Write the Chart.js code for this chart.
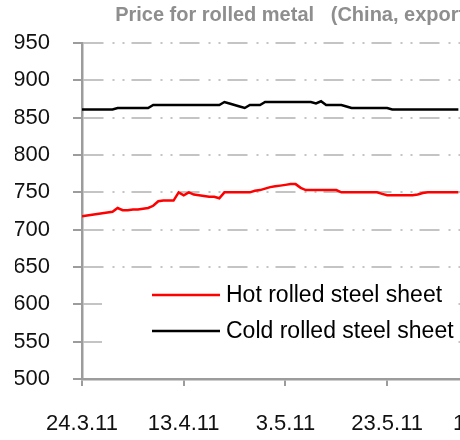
<!DOCTYPE html>
<html>
<head>
<meta charset="utf-8">
<script src="https://cdn.jsdelivr.net/npm/chart.js@4.4.1/dist/chart.umd.min.js"></script>
<style>
  html, body { margin: 0; padding: 0; background: #fff; overflow: hidden; }
  #wrap { width: 460px; height: 440px; overflow: hidden; }
</style>
</head>
<body>
<div id="wrap">
  <canvas id="myChart" width="580" height="440"></canvas>
</div>
<script>
// daily prices from 24.3.11, USD/t
var hotRolled = [
  718, 719, 720, 721, 722, 723, 724, 729, 726, 726,
  727, 727, 728, 729, 732, 738, 739, 739, 739, 750,
  746, 750, 747, 746, 745, 744, 744, 742, 750, 750,
  750, 750, 750, 750, 752, 753, 755, 757, 758, 759,
  760, 761, 761, 756, 753, 753, 753, 753, 753, 753,
  753, 750, 750, 750, 750, 750, 750, 750, 750, 748,
  746, 746, 746, 746, 746, 746, 747, 749, 750, 750,
  750, 750, 750, 750, 750
];
var coldRolled = [
  861, 861, 861, 861, 861, 861, 861, 863, 863, 863,
  863, 863, 863, 863, 867, 867, 867, 867, 867, 867,
  867, 867, 867, 867, 867, 867, 867, 867, 871, 869,
  867, 865, 863, 867, 867, 867, 871, 871, 871, 871,
  871, 871, 871, 871, 871, 871, 869, 872, 867, 867,
  867, 867, 865, 863, 863, 863, 863, 863, 863, 863,
  863, 861, 861, 861, 861, 861, 861, 861, 861, 861,
  861, 861, 861, 861, 861
];
var tickLabels = ['24.3.11', '13.4.11', '3.5.11', '23.5.11', '12.6.11'];
var tickEvery = 20;   // days between labelled ticks
var lastDay = 93;

var fontFamily = '"Liberation Sans", Arial, sans-serif';

function toPoints(arr) {
  return arr.map(function (v, i) { return { x: i, y: v }; });
}

// legend sits inside the plot, on a white box over the gridlines
var insideLegend = {
  id: 'insideLegend',
  afterDraw: function (chart) {
    var c = chart.ctx;
    var a = chart.chartArea;
    c.save();
    c.fillStyle = '#ffffff';
    c.fillRect(a.left + 20, a.bottom - 104, 354, 78);
    c.font = '23px ' + fontFamily;
    c.textBaseline = 'middle';
    chart.data.datasets.forEach(function (ds, i) {
      var y = a.bottom - 84 + i * 36;
      c.strokeStyle = ds.borderColor;
      c.lineWidth = 2.5;
      c.beginPath();
      c.moveTo(a.left + 70, y);
      c.lineTo(a.left + 138, y);
      c.stroke();
      c.fillStyle = '#000';
      c.fillText(ds.label, a.left + 144, y + 1);
    });
    c.restore();
  }
};

var ctx = document.getElementById('myChart').getContext('2d');
var myChart = new Chart(ctx, {
  type: 'line',
  data: {
    datasets: [{
      label: 'Hot rolled steel sheet',
      data: toPoints(hotRolled),
      borderColor: '#ff0000',
      borderWidth: 2.5,
      pointRadius: 0,
      tension: 0
    }, {
      label: 'Cold rolled steel sheet',
      data: toPoints(coldRolled),
      borderColor: '#000000',
      borderWidth: 2.5,
      pointRadius: 0,
      tension: 0
    }]
  },
  options: {
    responsive: false,
    animation: false,
    layout: { padding: { left: 15, right: 8, top: 0, bottom: 4 } },
    plugins: {
      legend: { display: false },
      tooltip: { enabled: false },
      title: {
        display: true,
        text: 'Price for rolled metal   (China, export)',
        color: '#8e8e8e',
        font: { family: fontFamily, size: 20, weight: 'bold' },
        padding: { top: 3, bottom: 16 }
      }
    },
    scales: {
      x: {
        type: 'linear',
        min: 0,
        max: lastDay,
        afterFit: function (scale) { scale.height = 57; },
        border: { color: '#9c9c9c', width: 2.5 },
        grid: { drawOnChartArea: false, drawTicks: true, tickLength: 7, color: '#9c9c9c', lineWidth: 2 },
        ticks: {
          stepSize: tickEvery,
          autoSkip: false,
          maxRotation: 0,
          padding: 25,
          color: '#111',
          font: { family: fontFamily, size: 22 },
          callback: function (v) {
            if (v % tickEvery !== 0) return '';
            return tickLabels[v / tickEvery] || '';
          }
        }
      },
      y: {
        min: 500,
        max: 950,
        afterFit: function (scale) { scale.width = 67; },
        border: { color: '#9c9c9c', width: 2.5, dash: [20, 9, 2, 8, 2, 7] },
        grid: {
          color: '#c4c4c4',
          lineWidth: 2,
          tickColor: '#9c9c9c',
          tickLength: 9,
          tickBorderDash: []
        },
        ticks: {
          stepSize: 50,
          padding: 23,
          color: '#111',
          font: { family: fontFamily, size: 22 }
        }
      }
    }
  },
  plugins: [insideLegend]
});
</script>
</body>
</html>
